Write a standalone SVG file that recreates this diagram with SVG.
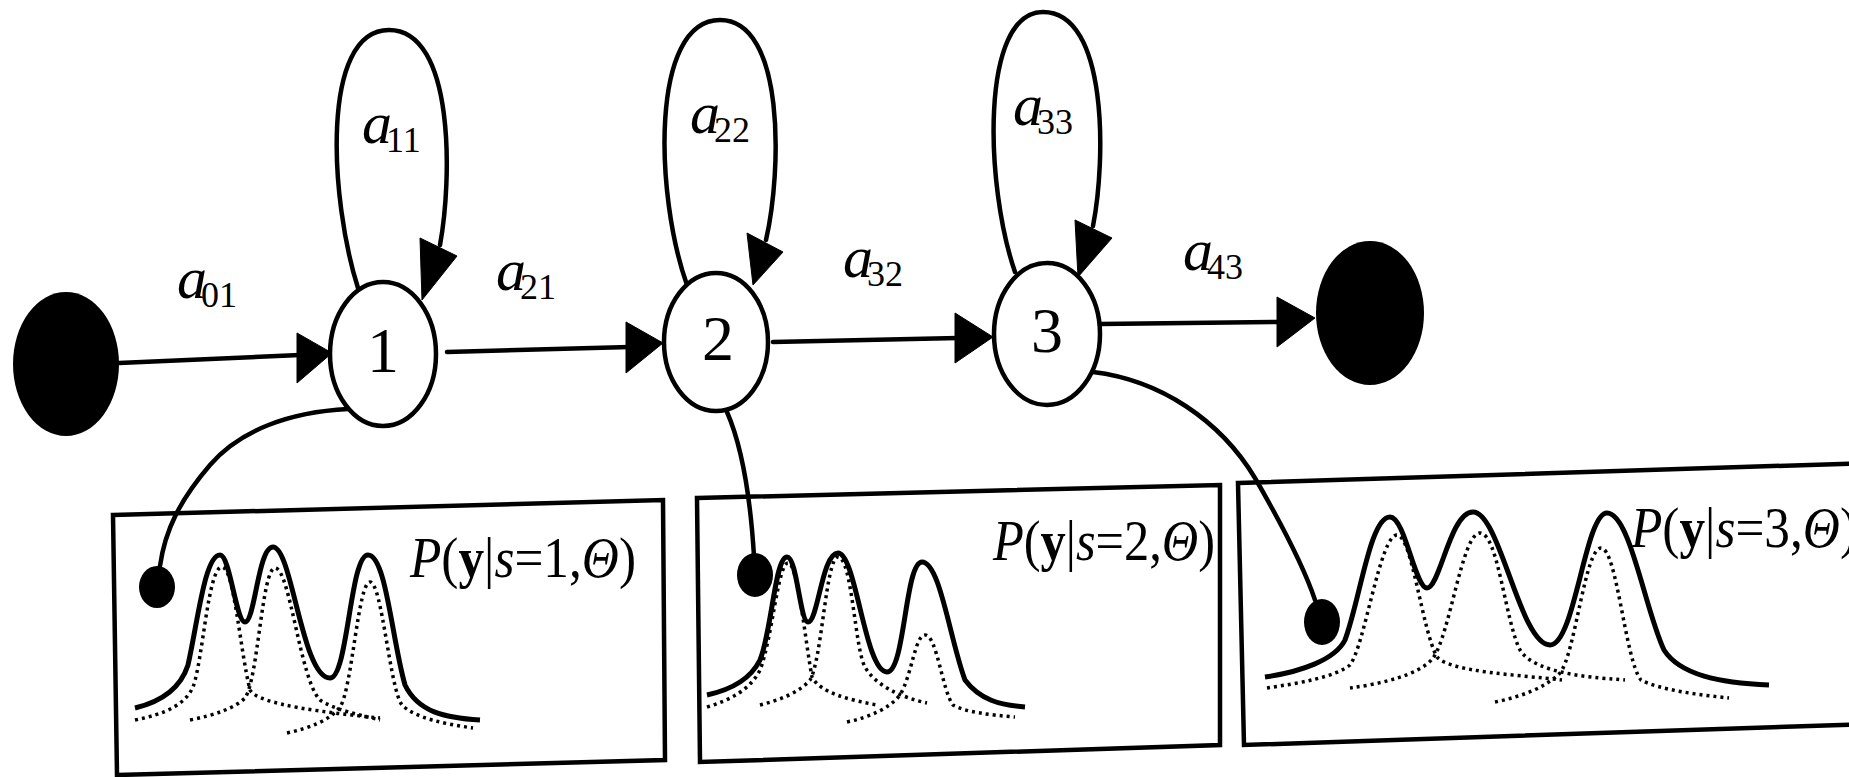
<svg xmlns="http://www.w3.org/2000/svg" width="1849" height="777" viewBox="0 0 1849 777">
<style>
.ln{fill:none;stroke:#000;stroke-width:4.5;stroke-linecap:round}
.ah{fill:#000;stroke:#000;stroke-width:1}
.node{fill:#fff;stroke:#000;stroke-width:4.5}
.term{fill:#000}
.box{fill:none;stroke:#000;stroke-width:4.5;stroke-linejoin:miter}
.sol{fill:none;stroke:#000;stroke-width:5;stroke-linejoin:round}
.dot{fill:none;stroke:#000;stroke-width:3.5;stroke-dasharray:3 4}
.lab{font-family:"Liberation Serif",serif;font-size:60px;font-style:italic;fill:#000}
.sub{font-style:normal;font-size:36px}
.num{font-family:"Liberation Serif",serif;font-size:64px;fill:#000;text-anchor:middle}
.pt{font-family:"Liberation Serif",serif;font-size:56px;fill:#000}
.it{font-style:italic}
.bd{font-weight:bold}
</style>
<rect width="1849" height="777" fill="#fff"/>

<g id="connectors">
  <line class="ln" x1="119" y1="363" x2="300" y2="355"/>
  <polygon class="ah" points="297,333 297,383 332,353"/>
  <path class="ln" d="M358,288 C330,200 320,30 389,30 C455,30 452,180 440,245"/>
  <polygon class="ah" points="420,238 457,256 422,300"/>
  <line class="ln" x1="447" y1="352" x2="630" y2="347"/>
  <polygon class="ah" points="626,322 626,373 663,343"/>
  <path class="ln" d="M687,285 C655,195 650,20 720,20 C785,20 782,170 766,240"/>
  <polygon class="ah" points="747,233 783,252 753,285"/>
  <line class="ln" x1="773" y1="342" x2="958" y2="338"/>
  <polygon class="ah" points="955,313 955,363 993,337"/>
  <path class="ln" d="M1015,272 C985,185 980,12 1043,12 C1108,12 1106,160 1093,226"/>
  <polygon class="ah" points="1075,220 1112,238 1078,277"/>
  <line class="ln" x1="1100" y1="324" x2="1280" y2="322"/>
  <polygon class="ah" points="1277,297 1277,347 1315,318"/>
  <path class="ln" d="M348,409 C290,412 240,430 210,465 C180,500 165,530 160,566"/>
  <path class="ln" d="M727,412 Q748,460 754,556"/>
  <path class="ln" d="M1093,372 C1160,380 1220,420 1255,478 C1285,530 1305,570 1315,600"/>
</g>

<g id="labels">
  <text class="lab" x="177" y="298">a<tspan class="sub" dx="-6" dy="9">01</tspan></text>
  <text class="lab" x="362" y="143">a<tspan class="sub" dx="-6" dy="9">11</tspan></text>
  <text class="lab" x="496" y="290">a<tspan class="sub" dx="-6" dy="9">21</tspan></text>
  <text class="lab" x="690" y="133">a<tspan class="sub" dx="-6" dy="9">22</tspan></text>
  <text class="lab" x="843" y="277">a<tspan class="sub" dx="-6" dy="9">32</tspan></text>
  <text class="lab" x="1013" y="125">a<tspan class="sub" dx="-6" dy="9">33</tspan></text>
  <text class="lab" x="1183" y="270">a<tspan class="sub" dx="-6" dy="9">43</tspan></text>
</g>

<g id="start">
  <ellipse class="term" cx="66" cy="364" rx="53" ry="72"/>
</g>
<g id="state1">
  <ellipse class="node" cx="383" cy="354" rx="53" ry="72"/>
  <text class="num" x="383" y="372">1</text>
</g>
<g id="state2">
  <ellipse class="node" cx="716" cy="342" rx="52" ry="69"/>
  <text class="num" x="718" y="360">2</text>
</g>
<g id="state3">
  <ellipse class="node" cx="1047" cy="334" rx="53" ry="71"/>
  <text class="num" x="1047" y="352">3</text>
</g>
<g id="end">
  <ellipse class="term" cx="1370" cy="313" rx="54" ry="72"/>
</g>

<g id="emission1">
  <polygon class="box" points="113,515 663,500 665,760 117,775"/>
  <path class="sol" d="M135,708 C160,702 180,690 188,665 C198,620 205,555 220,555 C230,555 236,622 245,622 C255,622 258,547 273,547 C292,547 302,678 330,678 C348,678 350,555 368,555 C386,555 392,640 405,685 C418,712 445,718 480,720"/>
  <path class="dot" d="M135,720 C165,714 185,705 193,687 C203,660 208,567 222,567 C234,567 240,650 250,690 C258,705 330,713 380,718"/>
  <path class="dot" d="M190,720 C215,715 235,708 245,698 C258,680 262,568 275,568 C290,568 300,680 320,700 C335,710 360,715 380,720"/>
  <path class="dot" d="M287,733 C310,728 330,720 340,707 C352,690 358,582 370,582 C382,582 390,690 402,705 C415,718 445,724 473,728"/>
  <ellipse class="term" cx="157" cy="587" rx="18" ry="21"/>
  <text class="pt" x="410" y="577" textLength="226" lengthAdjust="spacingAndGlyphs"><tspan class="it">P</tspan>(<tspan class="bd">y</tspan>|<tspan class="it">s</tspan>=1,<tspan class="it">Θ</tspan>)</text>
</g>

<g id="emission2">
  <polygon class="box" points="697,498 1220,485 1220,745 700,762"/>
  <path class="sol" d="M707,695 C730,690 750,680 760,660 C772,630 775,557 787,557 C797,557 800,622 808,622 C818,622 822,553 838,553 C856,553 865,672 887,672 C905,672 905,562 922,562 C940,562 950,640 965,680 C980,700 1000,705 1025,707"/>
  <path class="dot" d="M707,707 C730,700 750,690 760,670 C772,640 778,563 788,563 C798,563 805,640 812,677 C820,693 850,700 877,705"/>
  <path class="dot" d="M760,705 C780,700 800,692 810,680 C822,660 826,557 838,557 C852,557 855,650 865,667 C875,685 900,697 927,703"/>
  <path class="dot" d="M847,722 C870,717 890,708 900,695 C912,675 915,635 925,635 C937,635 942,690 953,705 C965,712 990,715 1015,717"/>
  <ellipse class="term" cx="755" cy="575" rx="18" ry="22"/>
  <text class="pt" x="993" y="560" textLength="222" lengthAdjust="spacingAndGlyphs"><tspan class="it">P</tspan>(<tspan class="bd">y</tspan>|<tspan class="it">s</tspan>=2,<tspan class="it">Θ</tspan>)</text>
</g>

<g id="emission3">
  <polygon class="box" points="1238,483 1870,463 1870,724 1244,745"/>
  <path class="sol" d="M1265,677 C1300,672 1335,660 1345,640 C1360,600 1370,517 1390,517 C1405,517 1415,588 1427,588 C1440,588 1450,512 1473,512 C1500,512 1520,645 1550,645 C1575,645 1585,513 1607,513 C1630,513 1645,610 1664,650 C1680,675 1720,683 1769,685"/>
  <path class="dot" d="M1267,688 C1300,683 1335,677 1350,665 C1365,645 1380,535 1397,535 C1412,535 1422,630 1437,657 C1450,672 1520,675 1562,680"/>
  <path class="dot" d="M1350,688 C1380,684 1420,675 1433,658 C1450,635 1462,533 1480,533 C1498,533 1505,620 1520,650 C1535,675 1600,678 1625,680"/>
  <path class="dot" d="M1495,702 C1520,697 1545,688 1560,673 C1575,655 1585,548 1601,548 C1617,548 1625,660 1641,680 C1660,690 1700,695 1729,698"/>
  <ellipse class="term" cx="1322" cy="622" rx="18" ry="23"/>
  <text class="pt" x="1631" y="547" textLength="226" lengthAdjust="spacingAndGlyphs"><tspan class="it">P</tspan>(<tspan class="bd">y</tspan>|<tspan class="it">s</tspan>=3,<tspan class="it">Θ</tspan>)</text>
</g>
</svg>
